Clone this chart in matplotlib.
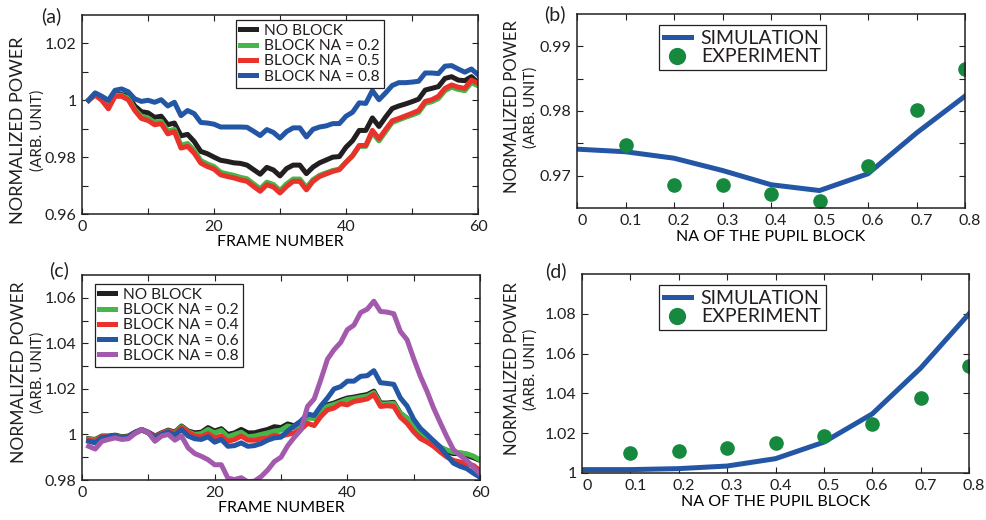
import numpy as np
import matplotlib
matplotlib.use('Agg')
import matplotlib.pyplot as plt
import matplotlib.transforms as mtransforms
from matplotlib.ticker import MultipleLocator, FixedLocator

plt.rcParams['font.family'] = ['Lato', 'DejaVu Sans']
plt.rcParams['text.color'] = '#231f20'
plt.rcParams['axes.edgecolor'] = '#231f20'
plt.rcParams['xtick.color'] = '#231f20'
plt.rcParams['ytick.color'] = '#231f20'

# ---- data, panel (a) ----
frames = np.arange(1, 61)
a_none = [1.0, 1.0024, 1.0012, 0.998, 1.002, 1.002, 1.0014, 0.998, 0.996, 0.9956,
          0.994, 0.9944, 0.9914, 0.992, 0.9875, 0.988, 0.9855, 0.982, 0.9812, 0.980,
          0.9789, 0.9785, 0.978, 0.9778, 0.9772, 0.9756, 0.974, 0.9764, 0.9755, 0.9734,
          0.976, 0.9772, 0.9772, 0.9742, 0.9765, 0.978, 0.979, 0.980, 0.9802, 0.9835,
          0.9858, 0.9894, 0.9894, 0.9938, 0.9908, 0.9941, 0.9971, 0.998, 0.9987, 0.9995,
          1.0004, 1.0036, 1.0042, 1.0048, 1.0077, 1.0083, 1.0071, 1.0069, 1.0083, 1.0062]
a_na02 = [1.0, 1.0022, 1.001, 0.9975, 1.0018, 1.0017, 1.0008, 0.9968, 0.9944, 0.9938,
          0.9922, 0.9926, 0.9892, 0.9898, 0.9842, 0.9848, 0.9824, 0.9788, 0.9776, 0.9767,
          0.9747, 0.9741, 0.9736, 0.9729, 0.9724, 0.9706, 0.9689, 0.9712, 0.9704, 0.9683,
          0.9706, 0.9723, 0.9723, 0.9693, 0.9721, 0.9736, 0.9745, 0.9753, 0.9758, 0.9782,
          0.9804, 0.9838, 0.9838, 0.9886, 0.9857, 0.989, 0.9922, 0.9931, 0.994, 0.9948,
          0.9957, 0.9989, 0.9995, 1.0006, 1.0034, 1.0046, 1.0038, 1.0034, 1.0062, 1.0051]
a_na05 = [1.0, 1.0018, 1.0, 0.997, 1.0014, 1.0014, 1.0002, 0.9964, 0.9936, 0.9929,
          0.9914, 0.9918, 0.9882, 0.989, 0.9832, 0.9838, 0.9814, 0.9779, 0.9767, 0.9758,
          0.9738, 0.9732, 0.9727, 0.972, 0.9715, 0.9697, 0.968, 0.9703, 0.9695, 0.9674,
          0.9697, 0.9715, 0.9715, 0.9685, 0.9715, 0.9732, 0.9741, 0.975, 0.9756, 0.9782,
          0.9806, 0.9841, 0.9841, 0.9894, 0.9865, 0.9897, 0.9928, 0.9936, 0.9945, 0.9954,
          0.9964, 0.9996, 1.0002, 1.0014, 1.0042, 1.0054, 1.0046, 1.0042, 1.0071, 1.006]
a_na08 = [1.0, 1.0026, 1.0014, 1.0, 1.0035, 1.004, 1.003, 1.0005, 0.9996, 1.0,
          0.9993, 1.0002, 0.998, 0.9993, 0.9946, 0.9964, 0.9953, 0.9922, 0.992, 0.9916,
          0.9906, 0.9906, 0.9906, 0.9906, 0.9905, 0.9891, 0.9876, 0.9897, 0.9887, 0.9867,
          0.989, 0.9903, 0.9903, 0.9871, 0.9898, 0.9906, 0.991, 0.9918, 0.9918, 0.9944,
          0.9958, 0.9991, 0.9989, 1.0034, 1.0002, 1.0026, 1.0052, 1.0062, 1.0062, 1.0064,
          1.0067, 1.0096, 1.0096, 1.0094, 1.012, 1.0122, 1.011, 1.0099, 1.011, 1.009]
a_labels = ['NO BLOCK', 'BLOCK NA = 0.2', 'BLOCK NA = 0.5', 'BLOCK NA = 0.8']

# ---- data, panel (c) ----
c_none = [0.9981, 0.9978, 0.9993, 0.9993, 0.9997, 0.999, 0.9993, 1.001, 1.0022, 1.001,
          0.9993, 1.0007, 1.0019, 1.001, 1.0037, 1.0015, 1.0007, 1.001, 1.003, 1.0015,
          1.0025, 1.0, 1.0007, 1.0022, 1.0007, 1.0007, 1.0015, 1.0022, 1.0034, 1.003,
          1.0046, 1.0038, 1.0056, 1.0079, 1.0076, 1.0108, 1.013, 1.0138, 1.015, 1.016,
          1.0164, 1.017, 1.0175, 1.019, 1.0138, 1.0138, 1.0141, 1.0093, 1.0071, 1.0034,
          1.0004, 0.9978, 0.996, 0.993, 0.9923, 0.9916, 0.9916, 0.9908, 0.9898, 0.9886]
c_na02 = [0.9979, 0.9976, 0.999, 0.999, 0.9994, 0.9988, 0.999, 1.0007, 1.0019, 1.0007,
          0.999, 1.0004, 1.0016, 1.0007, 1.0034, 1.0012, 1.0, 1.0004, 1.0022, 1.0007,
          1.0018, 0.999, 1.0, 1.001, 0.999, 0.9993, 1.0, 1.0007, 1.0015, 1.0019,
          1.0037, 1.0030, 1.0048, 1.0072, 1.007, 1.0102, 1.0124, 1.0132, 1.0143, 1.0154,
          1.0158, 1.0164, 1.0168, 1.0184, 1.0133, 1.0134, 1.0137, 1.0092, 1.0072, 1.004,
          1.0012, 0.9988, 0.997, 0.9945, 0.9932, 0.9922, 0.992, 0.9915, 0.9905, 0.9888]
c_na04 = [0.9975, 0.997, 0.999, 0.999, 0.9993, 0.9985, 0.999, 1.0007, 1.0019, 1.0007,
          0.999, 1.0004, 1.0015, 1.0004, 1.003, 1.001, 0.9993, 0.999, 1.0004, 0.9985,
          0.9993, 0.997, 0.9978, 0.9993, 0.9975, 0.9975, 0.9981, 0.9985, 0.9996, 0.9993,
          1.0, 1.0007, 1.0022, 1.0049, 1.0039, 1.0079, 1.0108, 1.0116, 1.0135, 1.013,
          1.0145, 1.015, 1.0156, 1.0175, 1.0123, 1.0126, 1.0123, 1.0076, 1.0049, 1.0012,
          0.9982, 0.9967, 0.9948, 0.9923, 0.9901, 0.9886, 0.9879, 0.9871, 0.9864, 0.9841]
c_na06 = [0.997, 0.9963, 0.9985, 0.999, 0.9993, 0.9985, 0.999, 1.0007, 1.0022, 1.0007,
          0.9985, 1.0, 1.001, 0.9996, 1.0022, 0.9993, 0.9981, 0.9978, 0.999, 0.9966,
          0.9978, 0.9948, 0.9951, 0.9963, 0.9948, 0.9951, 0.996, 0.9975, 0.9985, 0.9988,
          1.0015, 1.0037, 1.0059, 1.009, 1.0083, 1.0125, 1.016, 1.02, 1.021, 1.0234,
          1.0234, 1.0255, 1.0258, 1.028, 1.0227, 1.0224, 1.022, 1.016, 1.0125, 1.0067,
          1.0027, 1.0, 0.9972, 0.9945, 0.9908, 0.9874, 0.986, 0.985, 0.983, 0.9812]
c_na08 = [0.9948, 0.9936, 0.997, 0.9978, 0.9985, 0.9978, 0.9981, 1.0004, 1.0022, 1.0007,
          0.997, 0.9993, 1.0, 0.9975, 0.9993, 0.9941, 0.9916, 0.9904, 0.9889, 0.9867,
          0.9867, 0.9808, 0.9802, 0.9810, 0.9792, 0.9795, 0.9815, 0.9844, 0.9881, 0.99,
          0.995, 0.9987, 1.002, 1.0123, 1.0156, 1.024, 1.033, 1.0372, 1.0404, 1.046,
          1.048, 1.0535, 1.055, 1.0585, 1.054, 1.0537, 1.053, 1.0452, 1.0416, 1.0333,
          1.0256, 1.019, 1.0116, 1.0052, 0.999, 0.9933, 0.9908, 0.9886, 0.9856, 0.9827]
c_labels = ['NO BLOCK', 'BLOCK NA = 0.2', 'BLOCK NA = 0.4', 'BLOCK NA = 0.6', 'BLOCK NA = 0.8']

# ---- data, panels (b) and (d) ----
na_sim = [0, 0.1, 0.2, 0.3, 0.4, 0.5, 0.6, 0.7, 0.8]
na_exp = [0.1, 0.2, 0.3, 0.4, 0.5, 0.6, 0.7, 0.8]
na_ticklabels = ['0', '0.1', '0.2', '0.3', '0.4', '0.5', '0.6', '0.7', '0.8']
b_sim = [0.9741, 0.9737, 0.9727, 0.9708, 0.9686, 0.9677, 0.9703, 0.9766, 0.9823]
b_exp = [0.9747, 0.9686, 0.9686, 0.9671, 0.9661, 0.9715, 0.9802, 0.9865]
d_sim = [1.0017, 1.0017, 1.0022, 1.0035, 1.0072, 1.0155, 1.0297, 1.0527, 1.080]
d_exp = [1.0102, 1.0112, 1.0127, 1.015, 1.0185, 1.0247, 1.0375, 1.0538]

black = '#231f20'
green = '#45b649'
red = '#e8322b'
blue = '#2456a6'
purple = '#a35aad'
dotgreen = '#16893f'

W, H = 986, 520
fig = plt.figure(figsize=(W / 100, H / 100), dpi=100)


def box(l, t, r, b):
    return [l / W, 1 - b / H, (r - l) / W, (b - t) / H]


def style(ax):
    ax.tick_params(which='both', direction='in', top=True, right=True,
                   labelsize=11.5, pad=4, length=4, width=0.8)
    for s in ax.spines.values():
        s.set_linewidth(1.1)


def legend(ax, l, t, fs, hl):
    lg = ax.legend(loc='upper left', bbox_to_anchor=(l / W, 1 - t / H),
                   bbox_transform=fig.transFigure, borderaxespad=0,
                   fontsize=fs, frameon=True, fancybox=False, framealpha=1,
                   edgecolor=black, handlelength=hl, handletextpad=0.5,
                   labelspacing=0.08, borderpad=0.25, markerscale=1.2)
    lg.get_frame().set_linewidth(0.9)
    return lg


def ylab(x1, x2, yc, fs1, fs2):
    fig.text(x1 / W, 1 - yc / H, 'NORMALIZED POWER', rotation=90,
             ha='center', va='center', fontsize=fs1)
    fig.text(x2 / W, 1 - yc / H, '(ARB. UNIT)', rotation=90,
             ha='center', va='center', fontsize=fs2)


def shift_xlabels(ax, dx):
    off = mtransforms.ScaledTranslation(dx / 100, 0, fig.dpi_scale_trans)
    for t in ax.get_xticklabels():
        t.set_transform(t.get_transform() + off)


lw = 3.6

# (a)
ax = fig.add_axes(box(82, 15, 478, 214))
for y, col, lab in zip([a_none, a_na02, a_na05, a_na08], [black, green, red, blue], a_labels):
    ax.plot(frames, y, color=col, lw=lw, label=lab)
ax.set_xlim(0, 60)
ax.set_ylim(0.96, 1.03)
ax.xaxis.set_major_locator(FixedLocator([0, 20, 40, 60]))
ax.xaxis.set_minor_locator(MultipleLocator(10))
ax.yaxis.set_major_locator(FixedLocator([0.96, 0.98, 1.0, 1.02]))
ax.yaxis.set_minor_locator(FixedLocator([0.97, 0.99, 1.01]))
ax.set_yticklabels(['0.96', '0.98', '1', '1.02'])
style(ax)
ax.set_xlabel('FRAME NUMBER', fontsize=11.5, labelpad=1)
legend(ax, 236, 20, 11.2, 1.05)
ylab(18, 38, 130, 13, 11)
fig.text(51 / W, 1 - 16 / H, '(a)', ha='center', va='center', fontsize=14)

# (c)
ax = fig.add_axes(box(82, 275, 480, 480))
for y, col, lab in zip([c_none, c_na02, c_na04, c_na06, c_na08],
                       [black, green, red, blue, purple], c_labels):
    ax.plot(frames, y, color=col, lw=lw, label=lab)
ax.set_xlim(0, 60)
ax.set_ylim(0.98, 1.07)
ax.xaxis.set_major_locator(FixedLocator([0, 20, 40, 60]))
ax.xaxis.set_minor_locator(MultipleLocator(10))
ax.yaxis.set_major_locator(FixedLocator([0.98, 1.0, 1.02, 1.04, 1.06]))
ax.yaxis.set_minor_locator(FixedLocator([0.99, 1.01, 1.03, 1.05]))
ax.set_yticklabels(['0.98', '1', '1.02', '1.04', '1.06'])
style(ax)
ax.set_xlabel('FRAME NUMBER', fontsize=11.5, labelpad=1)
legend(ax, 95, 284, 11.2, 1.05)
ylab(19, 38, 372, 12.5, 11)
fig.text(59 / W, 1 - 270 / H, '(c)', ha='center', va='center', fontsize=14)

# (b)
ax = fig.add_axes(box(577, 14, 965, 208))
ax.plot(na_sim, b_sim, color=blue, lw=lw, label='SIMULATION')
ax.plot(na_exp, b_exp, 'o', color=dotgreen, ms=9.5, label='EXPERIMENT')
ax.set_xlim(0, 0.8)
ax.set_ylim(0.965, 0.995)
ax.set_xticks(na_sim)
ax.set_xticklabels(na_ticklabels)
ax.yaxis.set_major_locator(FixedLocator([0.97, 0.98, 0.99]))
ax.yaxis.set_minor_locator(FixedLocator([0.975, 0.985]))
style(ax)
shift_xlabels(ax, 5)
ax.set_xlabel('NA OF THE PUPIL BLOCK', fontsize=11.5, labelpad=2)
legend(ax, 659, 25, 14, 1.4)
ylab(512, 531, 107, 12, 11)
fig.text(555 / W, 1 - 14 / H, '(b)', ha='center', va='center', fontsize=14)

# (d)
ax = fig.add_axes(box(582, 274, 969, 473))
ax.plot(na_sim, d_sim, color=blue, lw=lw, label='SIMULATION')
ax.plot(na_exp, d_exp, 'o', color=dotgreen, ms=9.5, label='EXPERIMENT')
ax.set_xlim(0, 0.8)
ax.set_ylim(1.0, 1.1)
ax.set_xticks(na_sim)
ax.set_xticklabels(na_ticklabels)
ax.yaxis.set_major_locator(FixedLocator([1.0, 1.02, 1.04, 1.06, 1.08]))
ax.set_yticklabels(['1', '1.02', '1.04', '1.06', '1.08'])
style(ax)
shift_xlabels(ax, 5)
ax.set_xlabel('NA OF THE PUPIL BLOCK', fontsize=11.5, labelpad=2)
legend(ax, 659, 285, 14, 1.4)
ylab(512, 531, 369, 12, 11)
fig.text(556 / W, 1 - 271 / H, '(d)', ha='center', va='center', fontsize=14)

fig.savefig('out.png', dpi=100)
